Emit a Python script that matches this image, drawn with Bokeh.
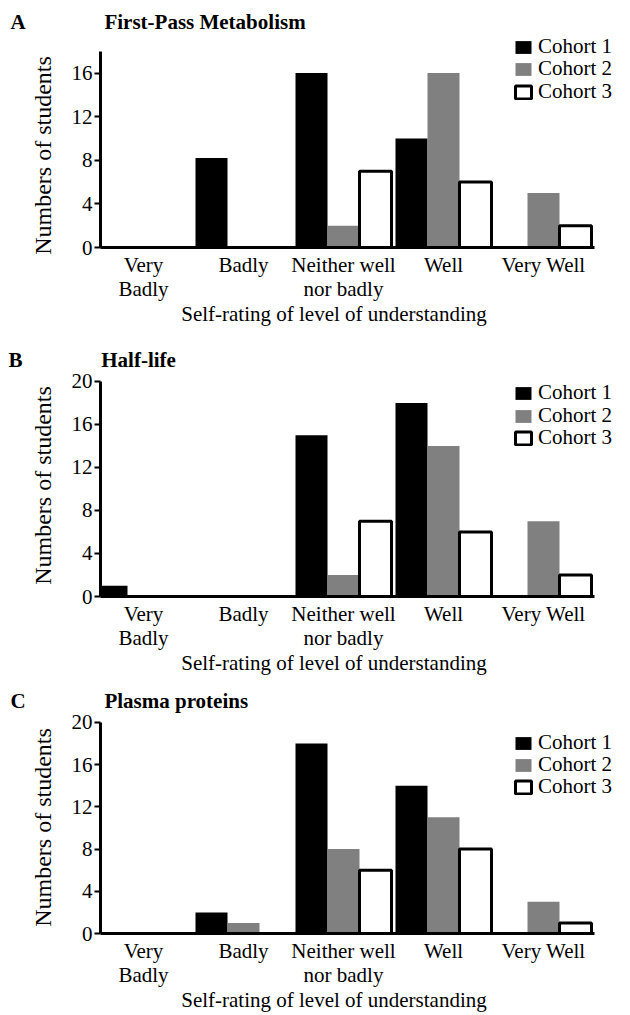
from bokeh.plotting import figure
from bokeh.layouts import column
from bokeh.models import (ColumnDataSource, Range1d, FixedTicker, SingleIntervalTicker, Legend)
from bokeh.transform import dodge
from bokeh.embed import file_html
from bokeh.resources import INLINE

# ---------------- data ----------------
categories = ["Very\nBadly", "Badly", "Neither well\nnor badly", "Well", "Very Well"]
cohorts = ["Cohort 1", "Cohort 2", "Cohort 3"]
x_title = "Self-rating of level of understanding"
y_title = "Numbers of students"

fpm_c1 = [0, 8.2, 16, 10, 0]
fpm_c2 = [0, 0, 2, 16, 5]
fpm_c3 = [0, 0, 7, 6, 2]

hl_c1 = [1, 0, 15, 18, 0]
hl_c2 = [0, 0, 2, 14, 7]
hl_c3 = [0, 0, 7, 6, 2]

pp_c1 = [0, 2, 18, 14, 0]
pp_c2 = [0, 1, 8, 11, 3]
pp_c3 = [0, 0, 6, 8, 1]

NB = "\u00a0"
panels = [
    dict(letter="A", title="First-Pass Metabolism", c1=fpm_c1, c2=fpm_c2, c3=fpm_c3,
         ymax=18, yend=19.63, height=336, top=33, standoff=0, bottom=89, letter_x=-90, ypad=5,
         legend_c=[200.5, 178.0, 155.5]),
    dict(letter="B", title="Half-life", c1=hl_c1, c2=hl_c2, c3=hl_c3,
         ymax=20, yend=20.64, height=341, top=38, standoff=5, bottom=78, letter_x=-92, ypad=0,
         legend_c=[203.5, 181.0, 158.5]),
    dict(letter="C", title="Plasma proteins", c1=pp_c1, c2=pp_c2, c3=pp_c3,
         ymax=20, yend=20.65, height=337, top=38, standoff=5, bottom=78, letter_x=-90, ypad=1,
         legend_c=[191.0, 168.5, 146.0]),
]

FONT = "Liberation Serif"
GRAY = "#808080"
BAR_W = 0.32
X_START, X_AXIS_END, X_END = -0.43, 4.51, 4.87

figs = []
for pn in panels:
    idx = list(range(len(categories)))
    src = ColumnDataSource(dict(x=idx, c1=pn["c1"], c2=pn["c2"], c3=pn["c3"]))
    p = figure(width=630, height=pn["height"], output_backend="svg", toolbar_location=None,
               x_range=Range1d(X_START, X_END), y_range=Range1d(0, pn["yend"]),
               min_border_left=100, min_border_right=0,
               min_border_top=pn["top"], min_border_bottom=pn["bottom"])
    p.outline_line_color = None
    p.xgrid.visible = False
    p.ygrid.visible = False
    p.background_fill_color = "white"
    p.border_fill_color = "white"

    p.title.text = pn["letter"] + NB * 15 + pn["title"]
    p.title.align = "left"
    p.title.offset = pn["letter_x"]
    p.title.standoff = pn["standoff"]
    p.title.text_font = FONT
    p.title.text_font_size = "21px"
    p.title.text_font_style = "bold"
    p.title.text_color = "black"

    r1 = p.vbar(x=dodge("x", -BAR_W, range=p.x_range), top="c1", width=BAR_W, source=src,
                fill_color="black", line_color=None)
    r2 = p.vbar(x=dodge("x", 0, range=p.x_range), top="c2", width=BAR_W, source=src,
                fill_color=GRAY, line_color=None)
    r3 = p.vbar(x=dodge("x", BAR_W, range=p.x_range), top="c3", width=BAR_W, source=src,
                fill_color="white", line_color="black", line_width=3)

    # x axis
    xa = p.xaxis[0]
    xa.bounds = (X_START, X_AXIS_END)
    xa.ticker = FixedTicker(ticks=idx)
    xa.major_label_overrides = {i: c for i, c in enumerate(categories)}
    xa.major_tick_out = 0
    xa.major_tick_in = 0
    xa.minor_tick_out = 0
    xa.minor_tick_in = 0
    xa.axis_line_width = 3
    xa.axis_line_color = "black"
    xa.major_label_text_font = FONT
    xa.major_label_text_font_size = "21px"
    xa.major_label_text_color = "black"
    xa.major_label_text_line_height = 1.0
    xa.major_label_standoff = 5
    xa.axis_label = x_title + NB * 12
    xa.axis_label_text_font = FONT
    xa.axis_label_text_font_size = "21px"
    xa.axis_label_text_font_style = "normal"
    xa.axis_label_text_color = "black"
    xa.axis_label_standoff = -2

    # y axis
    ya = p.yaxis[0]
    ya.bounds = (0, pn["ymax"])
    ya.ticker = SingleIntervalTicker(interval=4, num_minor_ticks=0)
    ya.major_tick_out = 6
    ya.major_tick_in = 0
    ya.major_tick_line_width = 2
    ya.minor_tick_out = 0
    ya.minor_tick_in = 0
    ya.axis_line_width = 3
    ya.axis_line_color = "black"
    ya.major_label_text_font = FONT
    ya.major_label_text_font_size = "21px"
    ya.major_label_text_color = "black"
    ya.major_label_standoff = 2
    ya.axis_label = y_title + NB * pn["ypad"]
    ya.axis_label_text_font = FONT
    ya.axis_label_text_font_size = "24px"
    ya.axis_label_text_font_style = "normal"
    ya.axis_label_text_color = "black"
    ya.axis_label_standoff = 13

    for name, r, cy in zip(cohorts, [r1, r2, r3], pn["legend_c"]):
        lg = Legend(items=[(name, [r])], location=(413, round(cy - 12.5)),
                    background_fill_alpha=0, border_line_alpha=0,
                    padding=0, margin=0, spacing=0,
                    glyph_width=20, glyph_height=16, label_standoff=5,
                    label_text_font=FONT, label_text_font_size="21px",
                    label_text_color="black")
        p.add_layout(lg, "center")
    figs.append(p)

layout = column(*figs, spacing=0)
open("out.html", "w").write(file_html(layout, INLINE))
